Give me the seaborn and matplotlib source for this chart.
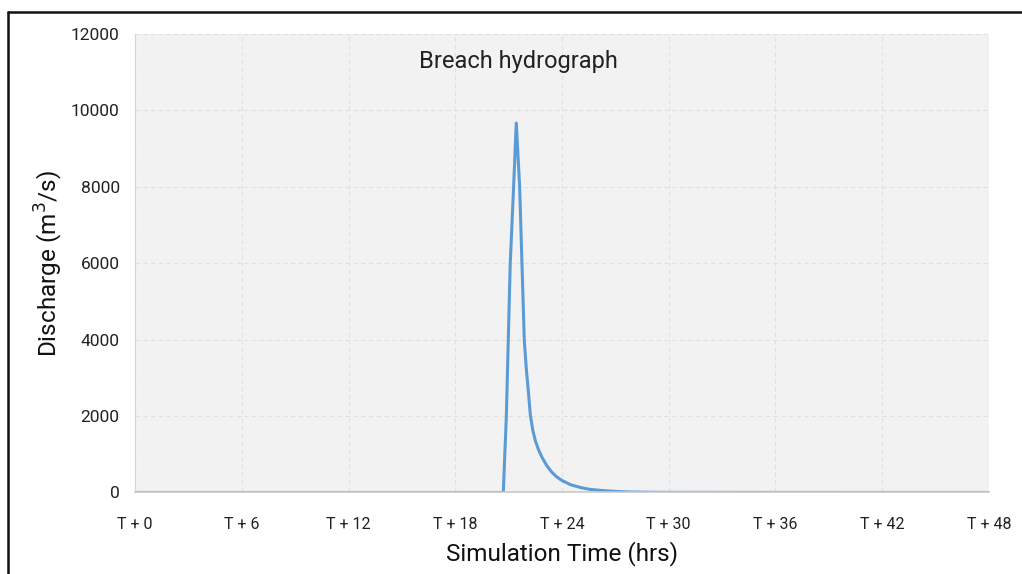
import numpy as np
import pandas as pd
import matplotlib
matplotlib.use('Agg')
import matplotlib.pyplot as plt
from matplotlib.lines import Line2D
import seaborn as sns

# Breach hydrograph values (hours, m3/s)
time_hrs = [0, 20.7, 20.87, 21.09, 21.28, 21.43, 21.62, 21.75, 21.88, 22.0,
            22.12, 22.22, 22.35, 22.5, 22.68, 22.87, 23.15, 23.43, 23.7, 24.0,
            24.5, 25.1, 25.6, 26.25, 27.0, 27.7, 29.0, 30.0, 48.0]
discharge = [0, 0, 1970, 5990, 8000, 9670, 8000, 5990, 3980, 3200,
             2590, 2030, 1650, 1360, 1120, 925, 700, 530, 410, 314,
             200, 123, 80, 52, 28, 14, 6, 3, 0]
x_ticks = [0, 6, 12, 18, 24, 30, 36, 42, 48]
x_tick_labels = ['T + %d' % t for t in x_ticks]
y_ticks = [0, 2000, 4000, 6000, 8000, 10000, 12000]

df = pd.DataFrame({'time': time_hrs, 'discharge': discharge})

sns.set_style('whitegrid', {
    'axes.facecolor': '#f2f2f2',
    'grid.color': '#e0e0e0',
    'grid.linestyle': (0, (4, 3)),
    'axes.edgecolor': '#d0d0d0',
})
plt.rcParams['font.family'] = ['Roboto', 'DejaVu Sans']

fig = plt.figure(figsize=(10.22, 5.74), dpi=100)
ax = fig.add_axes([0.1321, 0.142, 0.8356, 0.7988])

sns.lineplot(data=df, x='time', y='discharge', ax=ax, color='#5b9bd5', linewidth=2.2)

ax.set_xlim(0, 48)
ax.set_ylim(0, 12000)
ax.set_xticks(x_ticks)
ax.set_xticklabels(x_tick_labels, fontsize=11.5, color='#222222')
ax.set_yticks(y_ticks)
ax.set_yticklabels([str(v) for v in y_ticks], fontsize=12.5, color='#222222')
ax.tick_params(axis='both', length=5, color='#c8c8c8', direction='out', pad=6)
ax.tick_params(axis='x', pad=13)

for side in ['top', 'right']:
    ax.spines[side].set_visible(False)
ax.spines['left'].set_color('#d4d4d4')
ax.spines['bottom'].set_color('#c8c8c8')
ax.spines['bottom'].set_linewidth(1.2)

ax.set_xlabel('Simulation Time (hrs)', fontsize=17.5, color='#111111', labelpad=6)
ax.set_ylabel('Discharge (m$^3$/s)', fontsize=17.5, color='#111111', labelpad=4)
ax.text(0.449, 0.939, 'Breach hydrograph', transform=ax.transAxes,
        ha='center', va='center', fontsize=17, color='#222222')

# black frame around the slide image (left and top edges visible)
fig.add_artist(Line2D([8 / 1022, 8 / 1022], [0, 1 - 12 / 574], transform=fig.transFigure,
                      color='#111111', linewidth=1.8))
fig.add_artist(Line2D([8 / 1022, 1], [1 - 12 / 574, 1 - 12 / 574], transform=fig.transFigure,
                      color='#111111', linewidth=1.8))

fig.savefig('out.png', dpi=100)
